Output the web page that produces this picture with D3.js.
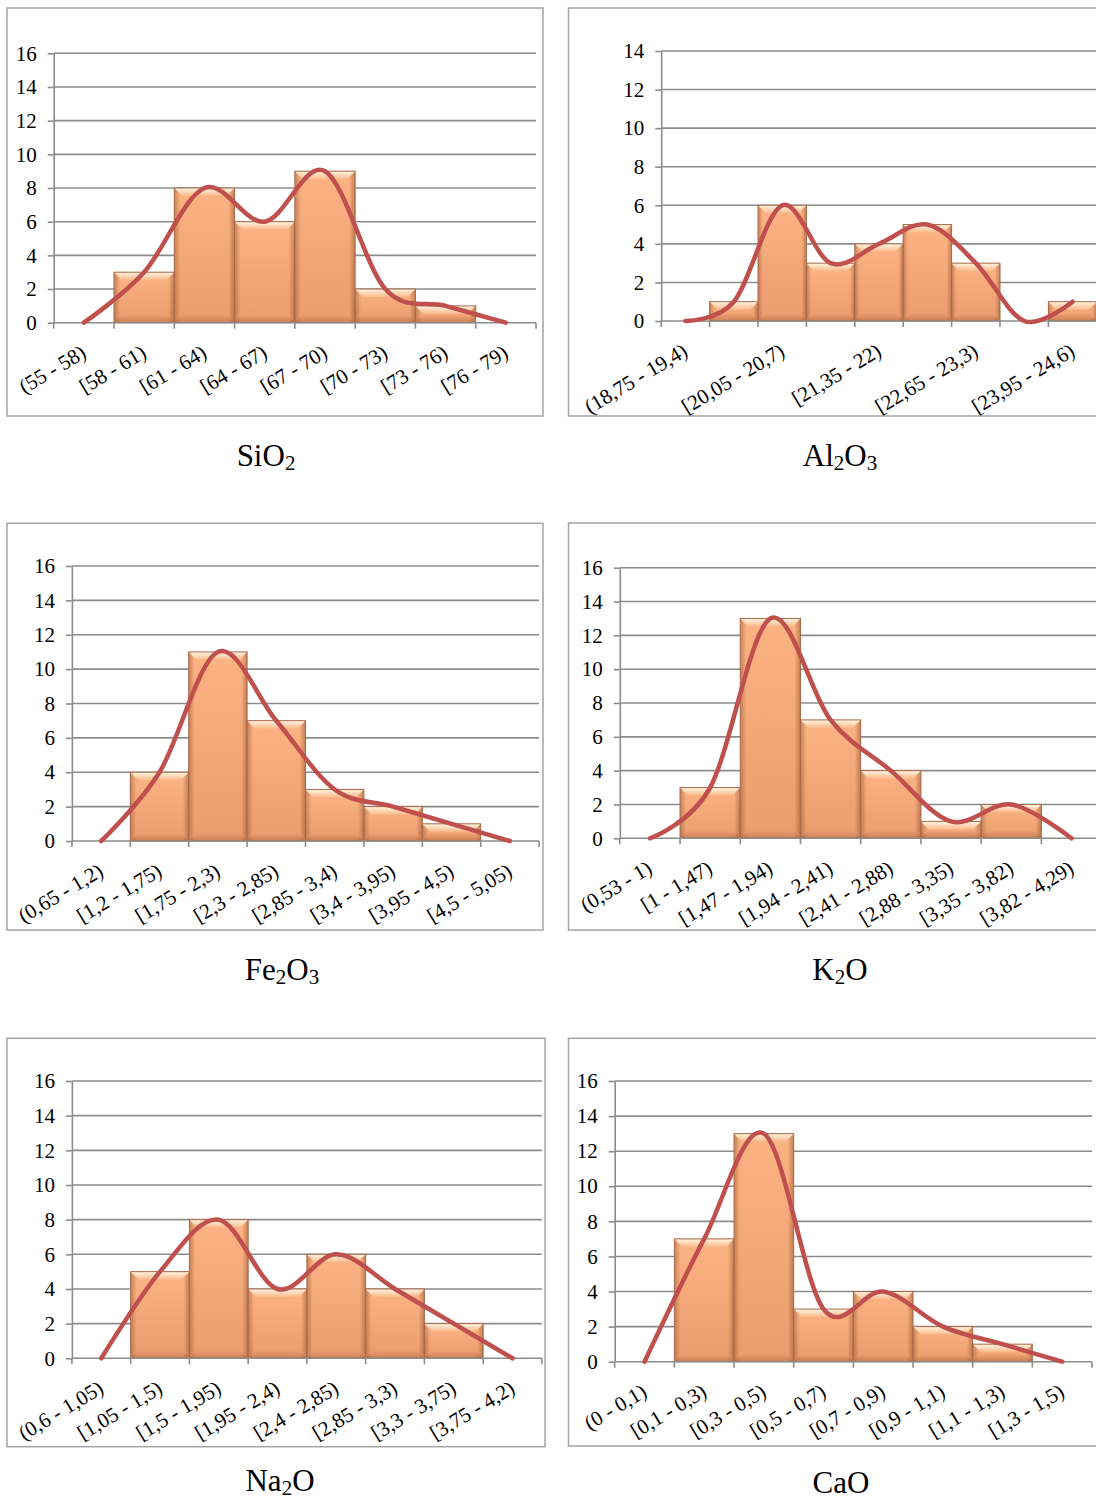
<!DOCTYPE html>
<html>
<head>
<meta charset="utf-8">
<script src="https://cdn.jsdelivr.net/npm/d3@7"></script>
<style>
  html, body { margin: 0; padding: 0; background: #ffffff; }
  svg { display: block; }
  text { font-family: "Liberation Serif", "Times New Roman", serif; fill: #000; }
</style>
</head>
<body>
<script>
// Frequency tables for each oxide: class intervals and counts per class.
const sio2Classes = ["(55 - 58)", "[58 - 61)", "[61 - 64)", "[64 - 67)", "[67 - 70)", "[70 - 73)", "[73 - 76)", "[76 - 79)"];
const sio2Counts = [0, 3, 8, 6, 9, 2, 1, 0];

const al2o3Classes = ["(18,75 - 19,4)", "[19,4 - 20,05)", "[20,05 - 20,7)", "[20,7 - 21,35)", "[21,35 - 22)", "[22 - 22,65)", "[22,65 - 23,3)", "[23,3 - 23,95)", "[23,95 - 24,6)"];
const al2o3Counts = [0, 1, 6, 3, 4, 5, 3, 0, 1];

const fe2o3Classes = ["(0,65 - 1,2)", "[1,2 - 1,75)", "[1,75 - 2,3)", "[2,3 - 2,85)", "[2,85 - 3,4)", "[3,4 - 3,95)", "[3,95 - 4,5)", "[4,5 - 5,05)"];
const fe2o3Counts = [0, 4, 11, 7, 3, 2, 1, 0];

const k2oClasses = ["(0,53 - 1)", "[1 - 1,47)", "[1,47 - 1,94)", "[1,94 - 2,41)", "[2,41 - 2,88)", "[2,88 - 3,35)", "[3,35 - 3,82)", "[3,82 - 4,29)"];
const k2oCounts = [0, 3, 13, 7, 4, 1, 2, 0];

const na2oClasses = ["(0,6 - 1,05)", "[1,05 - 1,5)", "[1,5 - 1,95)", "[1,95 - 2,4)", "[2,4 - 2,85)", "[2,85 - 3,3)", "[3,3 - 3,75)", "[3,75 - 4,2)"];
const na2oCounts = [0, 5, 8, 4, 6, 4, 2, 0];

const caoClasses = ["(0 - 0,1)", "[0,1 - 0,3)", "[0,3 - 0,5)", "[0,5 - 0,7)", "[0,7 - 0,9)", "[0,9 - 1,1)", "[1,1 - 1,3)", "[1,3 - 1,5)"];
const caoCounts = [0, 7, 13, 3, 4, 2, 1, 0];

// Y axis tick values
const yTicks16 = [0, 2, 4, 6, 8, 10, 12, 14, 16];
const yTicks14 = [0, 2, 4, 6, 8, 10, 12, 14];

// Titles as [text, isSubscript] pieces
const sio2Title = [["SiO", false], ["2", true]];
const al2o3Title = [["Al", false], ["2", true], ["O", false], ["3", true]];
const fe2o3Title = [["Fe", false], ["2", true], ["O", false], ["3", true]];
const k2oTitle = [["K", false], ["2", true], ["O", false]];
const na2oTitle = [["Na", false], ["2", true], ["O", false]];
const caoTitle = [["CaO", false]];

// Layout of the six panels
const panels = [
  { classes: sio2Classes, counts: sio2Counts, ticks: yTicks16, title: sio2Title, labelStep: 1,
    box: [7, 8, 543, 416], x0: 53.7, x1: 536, yTop: 53.3, yBot: 322.7, tx: 266, ty: 466 },
  { classes: al2o3Classes, counts: al2o3Counts, ticks: yTicks14, title: al2o3Title, labelStep: 2,
    box: [568.5, 8, 1106, 416], x0: 661.2, x1: 1096.8, yTop: 51, yBot: 321, tx: 840, ty: 466 },
  { classes: fe2o3Classes, counts: fe2o3Counts, ticks: yTicks16, title: fe2o3Title, labelStep: 1,
    box: [7, 523.3, 543, 930], x0: 71.9, x1: 539.1, yTop: 566, yBot: 841, tx: 282, ty: 980 },
  { classes: k2oClasses, counts: k2oCounts, ticks: yTicks16, title: k2oTitle, labelStep: 1,
    box: [568.5, 523, 1110, 930], x0: 619.8, x1: 1101.6, yTop: 567.7, yBot: 838.3, tx: 840, ty: 980 },
  { classes: na2oClasses, counts: na2oCounts, ticks: yTicks16, title: na2oTitle, labelStep: 1,
    box: [7, 1038.3, 545, 1446.7], x0: 71.9, x1: 541.9, yTop: 1081, yBot: 1358.3, tx: 280, ty: 1491 },
  { classes: caoClasses, counts: caoCounts, ticks: yTicks16, title: caoTitle, labelStep: 1,
    box: [568.5, 1038.3, 1106, 1446], x0: 614.7, x1: 1092, yTop: 1081, yBot: 1361.7, tx: 841, ty: 1493 }
];

const svg = d3.select("body").append("svg")
  .attr("width", 1096).attr("height", 1500);

// Shared gradients for the bevelled bars
const defs = svg.append("defs");
const body = defs.append("linearGradient").attr("id", "barBody")
  .attr("x1", 0).attr("y1", 0).attr("x2", 0).attr("y2", 1);
body.append("stop").attr("offset", "0%").attr("stop-color", "#fcb383");
body.append("stop").attr("offset", "100%").attr("stop-color", "#ea9c6f");

const sides = defs.append("linearGradient").attr("id", "barSides")
  .attr("x1", 0).attr("y1", 0).attr("x2", 1).attr("y2", 0);
[["0%", 0.45], ["10%", 0.0], ["90%", 0.0], ["100%", 0.5]].forEach(([o, a]) =>
  sides.append("stop").attr("offset", o).attr("stop-color", "#8a4a25").attr("stop-opacity", a));

const topBevel = defs.append("linearGradient").attr("id", "barTop")
  .attr("x1", 0).attr("y1", 0).attr("x2", 0).attr("y2", 1);
topBevel.append("stop").attr("offset", "0%").attr("stop-color", "#fff6e4");
topBevel.append("stop").attr("offset", "100%").attr("stop-color", "#fbb888");

const botBevel = defs.append("linearGradient").attr("id", "barBottom")
  .attr("x1", 0).attr("y1", 0).attr("x2", 0).attr("y2", 1);
botBevel.append("stop").attr("offset", "0%").attr("stop-color", "#9a5630").attr("stop-opacity", 0.05);
botBevel.append("stop").attr("offset", "100%").attr("stop-color", "#9a5630").attr("stop-opacity", 0.4);

const gridColor = "#8c8c8c";
const serif = "'Liberation Serif', 'Times New Roman', serif";

function drawPanel(p) {
  const g = svg.append("g");

  // Panel frame
  g.append("rect")
    .attr("x", p.box[0]).attr("y", p.box[1])
    .attr("width", p.box[2] - p.box[0]).attr("height", p.box[3] - p.box[1])
    .attr("fill", "#fff").attr("stroke", "#a3a3a3").attr("stroke-width", 1.5);

  const x = d3.scaleBand().domain(p.classes).range([p.x0, p.x1]).padding(0);
  const y = d3.scaleLinear().domain([0, d3.max(p.ticks)]).range([p.yBot, p.yTop]);
  const bw = x.bandwidth();

  // Horizontal gridlines
  g.append("g").selectAll("line").data(p.ticks.filter(t => t > 0)).join("line")
    .attr("x1", p.x0).attr("x2", p.x1)
    .attr("y1", d => y(d)).attr("y2", d => y(d))
    .attr("stroke", gridColor).attr("stroke-width", 1.6);

  // Y axis
  const yAxis = g.append("g").attr("transform", `translate(${p.x0},0)`)
    .call(d3.axisLeft(y).tickValues(p.ticks).tickSizeInner(6).tickSizeOuter(0).tickPadding(11)
      .tickFormat(d3.format("d")));
  yAxis.select(".domain").attr("stroke", gridColor).attr("stroke-width", 1.6);
  yAxis.selectAll(".tick line").attr("stroke", gridColor).attr("stroke-width", 1.6);
  yAxis.selectAll(".tick text").attr("font-size", 21)
    .attr("font-family", serif).attr("fill", "#000");

  // Bars with bevel
  const data = p.classes.map((c, i) => ({ c, v: p.counts[i] }));
  const bars = g.append("g").selectAll("g").data(data.filter(d => d.v > 0)).join("g");
  bars.append("rect")
    .attr("x", d => x(d.c)).attr("y", d => y(d.v))
    .attr("width", bw).attr("height", d => y(0) - y(d.v))
    .attr("fill", "url(#barBody)");
  bars.append("rect")
    .attr("x", d => x(d.c)).attr("y", d => y(d.v))
    .attr("width", bw).attr("height", d => y(0) - y(d.v))
    .attr("fill", "url(#barSides)");
  bars.append("path")
    .attr("d", d => {
      const l = x(d.c), r = l + bw, t = y(d.v), b = Math.min(8, (y(0) - y(d.v)) / 2);
      return `M${l},${t}L${r},${t}L${r - b},${t + b}L${l + b},${t + b}Z`;
    })
    .attr("fill", "url(#barTop)");
  bars.append("path")
    .attr("d", d => {
      const l = x(d.c), r = l + bw, bt = y(0), b = Math.min(7, (y(0) - y(d.v)) / 2);
      return `M${l},${bt}L${r},${bt}L${r - b},${bt - b}L${l + b},${bt - b}Z`;
    })
    .attr("fill", "url(#barBottom)");
  bars.append("rect")
    .attr("x", d => x(d.c)).attr("y", d => y(d.v))
    .attr("width", bw).attr("height", d => y(0) - y(d.v))
    .attr("fill", "none").attr("stroke", "#a8694a").attr("stroke-width", 1);

  // X axis baseline and boundary ticks
  g.append("line")
    .attr("x1", p.x0).attr("x2", p.x1).attr("y1", y(0)).attr("y2", y(0))
    .attr("stroke", gridColor).attr("stroke-width", 1.6);
  const bounds = p.classes.map(c => x(c)).concat([p.x1]);
  g.append("g").selectAll("line").data(bounds).join("line")
    .attr("x1", d => d).attr("x2", d => d)
    .attr("y1", y(0)).attr("y2", y(0) + 6)
    .attr("stroke", gridColor).attr("stroke-width", 1.6);

  // Rotated class labels
  g.append("g").selectAll("text")
    .data(p.classes.filter((c, i) => i % p.labelStep === 0)).join("text")
    .attr("transform", c => `translate(${x(c) + bw / 2 - 4},${y(0) + 21}) rotate(-31)`)
    .attr("text-anchor", "end").attr("dy", "0.71em")
    .attr("font-size", 21)
    .text(c => c);

  // Smoothed frequency curve
  const line = d3.line()
    .x(d => x(d.c) + bw / 2)
    .y(d => y(d.v))
    .curve(d3.curveCardinal.tension(0));
  g.append("path").datum(data)
    .attr("d", line)
    .attr("fill", "none").attr("stroke", "#c0504d")
    .attr("stroke-width", 4.5).attr("stroke-linecap", "round").attr("stroke-linejoin", "round");

  // Title with subscripts
  const title = g.append("text")
    .attr("x", p.tx).attr("y", p.ty)
    .attr("text-anchor", "middle").attr("font-size", 31);
  p.title.forEach(([t, sub]) => {
    const ts = title.append("tspan").text(t);
    if (sub) ts.attr("font-size", 21).attr("dy", 4);
    else ts.attr("dy", title.selectAll("tspan").size() > 1 ? -4 : 0);
  });
}

panels.forEach(drawPanel);
</script>
</body>
</html>
